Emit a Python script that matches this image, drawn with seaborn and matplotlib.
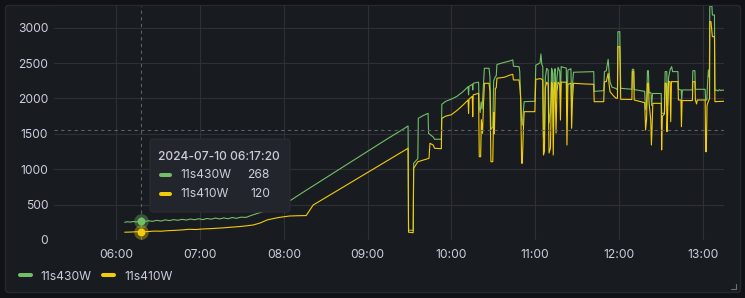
import numpy as np
import pandas as pd
import matplotlib
matplotlib.use("Agg")
import matplotlib.pyplot as plt
import matplotlib.dates as mdates
from matplotlib.patches import FancyBboxPatch
from matplotlib.lines import Line2D
from matplotlib.transforms import IdentityTransform
import seaborn as sns

DAY = "2024-07-10"
series_names = ["11s430W", "11s410W"]
series_colors = ["#73BF69", "#F2CC0C"]

g_times = [
    "06:06:00", "06:08:00", "06:10:00", "06:12:00", "06:14:00", "06:17:20", "06:20:00", "06:23:00",
    "06:26:00", "06:29:00", "06:32:00", "06:35:00", "06:38:00", "06:41:00", "06:44:00", "06:47:00",
    "06:50:00", "06:53:00", "06:56:00", "06:59:00", "07:02:00", "07:05:00", "07:08:00", "07:11:00",
    "07:14:00", "07:17:00", "07:20:00", "07:23:00", "07:26:00", "07:29:00", "07:33:00", "07:37:00",
    "07:41:00", "07:45:00", "07:49:00", "07:53:00", "07:57:00", "08:01:00", "08:04:00", "08:15:00",
    "08:25:00", "08:35:00", "08:45:00", "08:55:00", "09:05:00", "09:15:00", "09:25:00", "09:29:00",
    "09:29:20", "09:32:40", "09:33:00", "09:36:00", "09:36:20", "09:40:00", "09:43:20", "09:43:40",
    "09:47:00", "09:48:00", "09:52:50", "09:53:10", "09:56:00", "10:00:00", "10:04:00", "10:08:00",
    "10:12:00", "10:12:20", "10:12:40", "10:15:00", "10:15:20", "10:15:40", "10:19:30", "10:20:00",
    "10:20:40", "10:21:20", "10:22:00", "10:23:00", "10:23:40", "10:27:00", "10:27:40", "10:28:20",
    "10:29:40", "10:30:20", "10:31:30", "10:32:10", "10:32:40", "10:38:00", "10:42:00", "10:44:00",
    "10:44:30", "10:48:30", "10:49:00", "10:49:40", "10:50:20", "10:50:50", "10:51:30", "10:52:10",
    "10:59:50", "11:00:30", "11:03:30", "11:04:10", "11:04:50", "11:05:30", "11:06:00", "11:06:40",
    "11:07:20", "11:08:20", "11:09:20", "11:10:00", "11:11:00", "11:11:50", "11:12:30", "11:13:00",
    "11:13:40", "11:14:20", "11:15:00", "11:15:40", "11:16:30", "11:17:40", "11:18:10", "11:18:40",
    "11:20:00", "11:22:20", "11:22:50", "11:23:30", "11:25:40", "11:26:10", "11:26:50", "11:27:30",
    "11:35:00", "11:42:00", "11:42:20", "11:49:10", "11:49:40", "11:51:00", "11:52:20", "11:53:00",
    "11:53:40", "11:55:00", "11:58:00", "11:59:00", "11:59:20", "12:00:40", "12:01:20", "12:09:20",
    "12:09:40", "12:10:40", "12:11:00", "12:18:30", "12:19:10", "12:19:50", "12:20:30", "12:21:10",
    "12:21:40", "12:23:00", "12:23:30", "12:24:10", "12:30:20", "12:30:40", "12:32:40", "12:33:10",
    "12:34:20", "12:34:50", "12:35:40", "12:36:40", "12:37:50", "12:38:30", "12:42:20", "12:42:40",
    "12:44:40", "12:45:00", "12:45:30", "12:52:40", "12:53:00", "12:54:30", "12:54:50", "13:01:50",
    "13:02:10", "13:03:00", "13:03:40", "13:04:10", "13:04:50", "13:05:10", "13:06:40", "13:07:00",
    "13:08:30", "13:08:50", "13:10:00", "13:11:00", "13:12:00", "13:13:00", "13:14:00", "13:15:10",
]
g_values = [
    250, 258, 252, 262, 255, 268, 260, 272,
    264, 278, 268, 284, 274, 288, 278, 292,
    282, 296, 286, 300, 288, 304, 294, 310,
    298, 312, 300, 318, 306, 322, 320, 350,
    375, 400, 440, 475, 509, 535, 550, 690,
    815, 940, 1065, 1190, 1315, 1440, 1560, 1611,
    140, 135, 1084, 1150, 1720, 1760, 1790, 1507,
    1455, 1423, 1423, 1917, 1960, 1990, 2030, 2090,
    2166, 2050, 2170, 2200, 2120, 2214, 2230, 1880,
    1800, 1950, 1850, 2200, 2426, 2426, 2300, 1560,
    1600, 2250, 2307, 2320, 2480, 2510, 2530, 2545,
    2455, 2449, 2380, 2000, 1700, 1620, 1800, 1954,
    1960, 2470, 2500, 2628, 2480, 2450, 1450, 1500,
    2300, 2426, 2400, 1650, 1800, 2426, 2380, 1600,
    2350, 2420, 2000, 2300, 2440, 2380, 2000, 2450,
    2440, 2430, 1850, 2400, 2420, 1950, 2200, 2370,
    2375, 2379, 2100, 2110, 2379, 2390, 2553, 2380,
    2237, 2160, 2140, 2120, 2943, 2943, 2143, 2130,
    2412, 2412, 2125, 2100, 1840, 1900, 2392, 2392,
    2081, 2081, 1900, 2070, 2070, 1790, 1790, 2379,
    2379, 1900, 2300, 2402, 2449, 2379, 2379, 2129,
    2120, 1978, 2120, 2120, 2392, 2392, 2129, 2129,
    1978, 1978, 2250, 2402, 2300, 3306, 3306, 3179,
    3179, 2110, 2120, 2105, 2125, 2110, 2120, 2115,
]

y_times = [
    "06:06:00", "06:10:00", "06:14:00", "06:17:20", "06:22:00", "06:27:00", "06:32:00", "06:37:00",
    "06:42:00", "06:47:00", "06:52:00", "06:57:00", "07:02:00", "07:07:00", "07:12:00", "07:17:00",
    "07:21:00", "07:26:00", "07:31:00", "07:38:00", "07:43:00", "07:48:00", "07:53:00", "07:57:00",
    "08:04:00", "08:10:00", "08:16:00", "08:21:00", "08:30:00", "08:40:00", "08:50:00", "09:00:00",
    "09:10:00", "09:20:00", "09:29:00", "09:29:20", "09:32:40", "09:33:00", "09:36:00", "09:44:00",
    "09:44:40", "09:47:00", "09:48:00", "09:52:50", "09:53:10", "09:56:00", "10:00:00", "10:04:00",
    "10:08:00", "10:12:00", "10:12:20", "10:12:40", "10:15:00", "10:15:20", "10:15:40", "10:19:30",
    "10:20:00", "10:21:00", "10:21:30", "10:22:20", "10:23:00", "10:23:40", "10:27:00", "10:27:40",
    "10:28:20", "10:29:40", "10:30:20", "10:30:50", "10:31:30", "10:32:10", "10:32:40", "10:38:00",
    "10:42:00", "10:44:00", "10:44:30", "10:48:30", "10:49:00", "10:49:40", "10:50:20", "10:50:50",
    "10:51:30", "10:52:10", "10:59:50", "11:00:30", "11:04:00", "11:05:30", "11:06:00", "11:06:40",
    "11:07:20", "11:08:20", "11:09:20", "11:10:00", "11:11:00", "11:11:50", "11:12:30", "11:13:00",
    "11:13:40", "11:14:20", "11:15:00", "11:15:40", "11:16:30", "11:17:40", "11:18:10", "11:18:40",
    "11:22:20", "11:22:50", "11:23:30", "11:25:40", "11:26:10", "11:26:50", "11:27:30", "11:35:00",
    "11:42:00", "11:42:20", "11:49:10", "11:49:40", "11:51:00", "11:52:20", "11:53:00", "11:53:40",
    "11:56:00", "11:58:00", "11:59:00", "11:59:20", "12:00:40", "12:01:20", "12:09:20", "12:09:40",
    "12:10:40", "12:11:00", "12:18:30", "12:19:10", "12:19:50", "12:20:30", "12:21:10", "12:21:40",
    "12:22:50", "12:23:20", "12:23:50", "12:24:20", "12:30:20", "12:30:40", "12:31:10", "12:32:40",
    "12:33:10", "12:34:00", "12:34:30", "12:35:00", "12:35:40", "12:36:40", "12:37:10", "12:37:40",
    "12:42:20", "12:42:40", "12:44:30", "12:44:50", "12:45:20", "12:52:40", "12:53:00", "12:54:30",
    "12:54:50", "12:55:40", "12:56:10", "13:01:50", "13:02:10", "13:02:40", "13:03:10", "13:04:10",
    "13:05:00", "13:05:10", "13:06:00", "13:07:00", "13:08:30", "13:08:50", "13:15:10",
]
y_values = [
    110, 112, 116, 120, 118, 126, 124, 132,
    136, 142, 151, 148, 156, 160, 166, 172,
    179, 186, 195, 212, 240, 283, 305, 320,
    339, 343, 345, 494, 600, 718, 836, 954,
    1072, 1190, 1296, 110, 103, 1013, 1106, 1154,
    1366, 1342, 1296, 1290, 1719, 1750, 1770, 1830,
    1900, 1978, 1790, 1990, 2030, 1742, 2050, 2072,
    1177, 1177, 1700, 1507, 1900, 2214, 2214, 2100,
    1106, 1106, 1800, 1500, 2143, 2150, 2285, 2300,
    2330, 2341, 2261, 2261, 2180, 2002, 1084, 1084,
    1500, 1813, 1813, 2270, 2280, 2260, 1201, 1250,
    2150, 2230, 2200, 1229, 1300, 2230, 2200, 1201,
    2100, 2230, 1511, 2100, 2230, 2200, 1695, 2230,
    2230, 1342, 2200, 2214, 1578, 2000, 2214, 2205,
    2200, 1954, 1954, 2237, 2237, 2355, 2200, 2096,
    2040, 2002, 2002, 2731, 2731, 1988, 1985, 2379,
    2379, 1978, 1940, 1554, 1700, 2214, 2214, 1931,
    1700, 1342, 1600, 1931, 1931, 1272, 1750, 1780,
    2214, 2214, 1530, 1800, 2237, 2237, 1672, 2237,
    2237, 1978, 1978, 1601, 1970, 1970, 2237, 2237,
    1978, 1922, 1978, 1978, 1248, 1248, 1900, 1960,
    2000, 3085, 3085, 2873, 2873, 1954, 1960,
]

y_ticks = [0, 500, 1000, 1500, 2000, 2500, 3000]
time_range = ("05:15:20", "13:15:20")
y_max = 3306
hover_time = "06:17:20"
hover_values = [268, 120]
hover_cursor_value = 1560

TXT = "#ccccdc"
FONT = "Inter"

df = pd.concat([
    pd.DataFrame({"time": pd.to_datetime([f"{DAY} {t}" for t in g_times]),
                  "value": g_values, "series": series_names[0]}),
    pd.DataFrame({"time": pd.to_datetime([f"{DAY} {t}" for t in y_times]),
                  "value": y_values, "series": series_names[1]}),
], ignore_index=True)

sns.set_theme(style="dark")
plt.rcParams["font.family"] = [FONT, "DejaVu Sans"]

W, H = 745, 298
fig = plt.figure(figsize=(W / 100, H / 100), dpi=100, facecolor="#111217")

# panel background (behind the axes)
panel = FancyBboxPatch((5.5, 5.5), 735, 287, boxstyle="round,pad=0,rounding_size=3",
                       transform=IdentityTransform(), fc="#181b1f", ec="#25282e", lw=1, zorder=-10)
fig.patches.append(panel)

ax = fig.add_axes([54 / W, (H - 240) / H, 670 / W, 234 / H])
ax.set_facecolor("#181b1f")

sns.lineplot(data=df, x="time", y="value", hue="series", hue_order=series_names,
             palette=series_colors, linewidth=0.8, estimator=None, sort=False,
             legend=False, ax=ax)

ax.set_xlim(pd.Timestamp(f"{DAY} {time_range[0]}"), pd.Timestamp(f"{DAY} {time_range[1]}"))
ax.set_ylim(0, y_max)
ax.set_yticks(y_ticks)
ax.xaxis.set_major_locator(mdates.HourLocator())
ax.xaxis.set_major_formatter(mdates.DateFormatter("%H:%M"))
ax.set_xlabel("")
ax.set_ylabel("")
ax.grid(True, color="#2e3036", linewidth=0.8)
ax.set_axisbelow(True)
for s in ax.spines.values():
    s.set_visible(False)
ax.tick_params(axis="both", length=0, colors=TXT, labelsize=8.7)
ax.tick_params(axis="y", pad=4.2)
ax.tick_params(axis="x", pad=6.2)

# crosshair
ht = pd.Timestamp(f"{DAY} {hover_time}")
ax.axvline(ht, color="#5d6068", lw=0.8, ls=(0, (3, 3)), zorder=3)
ax.axhline(hover_cursor_value, color="#5d6068", lw=0.8, ls=(0, (3, 3)), zorder=3)
for v, c in zip(hover_values, series_colors):
    ax.scatter([ht], [v], s=110, color=c, alpha=0.35, lw=0, zorder=6)
    ax.scatter([ht], [v], s=32, color=c, lw=0, zorder=7)

# tooltip
tip = FancyBboxPatch((150, H - 212), 140, 73, boxstyle="round,pad=0,rounding_size=3",
                     transform=IdentityTransform(), fc="#22252b", ec="#2a2d33", lw=0.8, zorder=10)
fig.patches.append(tip)
fig.text(158 / W, (H - 156.5) / H, f"{DAY} {hover_time}", color=TXT, fontsize=8.7,
         fontweight="medium", va="center", ha="left", zorder=11)
for i, (name, c, v) in enumerate(zip(series_names, series_colors, hover_values)):
    yy = H - (175 + 19 * i)
    fig.lines.append(Line2D([160.5, 169.5], [yy, yy], transform=IdentityTransform(), color=c,
                            lw=2.9, solid_capstyle="round", zorder=11))
    fig.text(180 / W, yy / H, name, color=TXT, fontsize=8.7, va="center", ha="left", zorder=11)
    fig.text(270 / W, yy / H, str(v), color=TXT, fontsize=8.7, va="center", ha="right", zorder=11)

# legend
handles = [Line2D([0], [0], color=c, lw=2.9, solid_capstyle="round") for c in series_colors]
leg = fig.legend(handles, series_names, loc="center left", bbox_to_anchor=(19.5 / W, 21.5 / H),
                 frameon=False, ncol=2, handlelength=0.92, handletextpad=0.79, columnspacing=1.0,
                 borderpad=0, borderaxespad=0, fontsize=8.7)
for t in leg.get_texts():
    t.set_color(TXT)

# resize corner mark
fig.lines.append(Line2D([736, 736, 731], [H - 284, H - 289, H - 289], transform=IdentityTransform(),
                        color="#6c6f76", lw=0.8))

fig.savefig("out.png", dpi=100, facecolor=fig.get_facecolor())
